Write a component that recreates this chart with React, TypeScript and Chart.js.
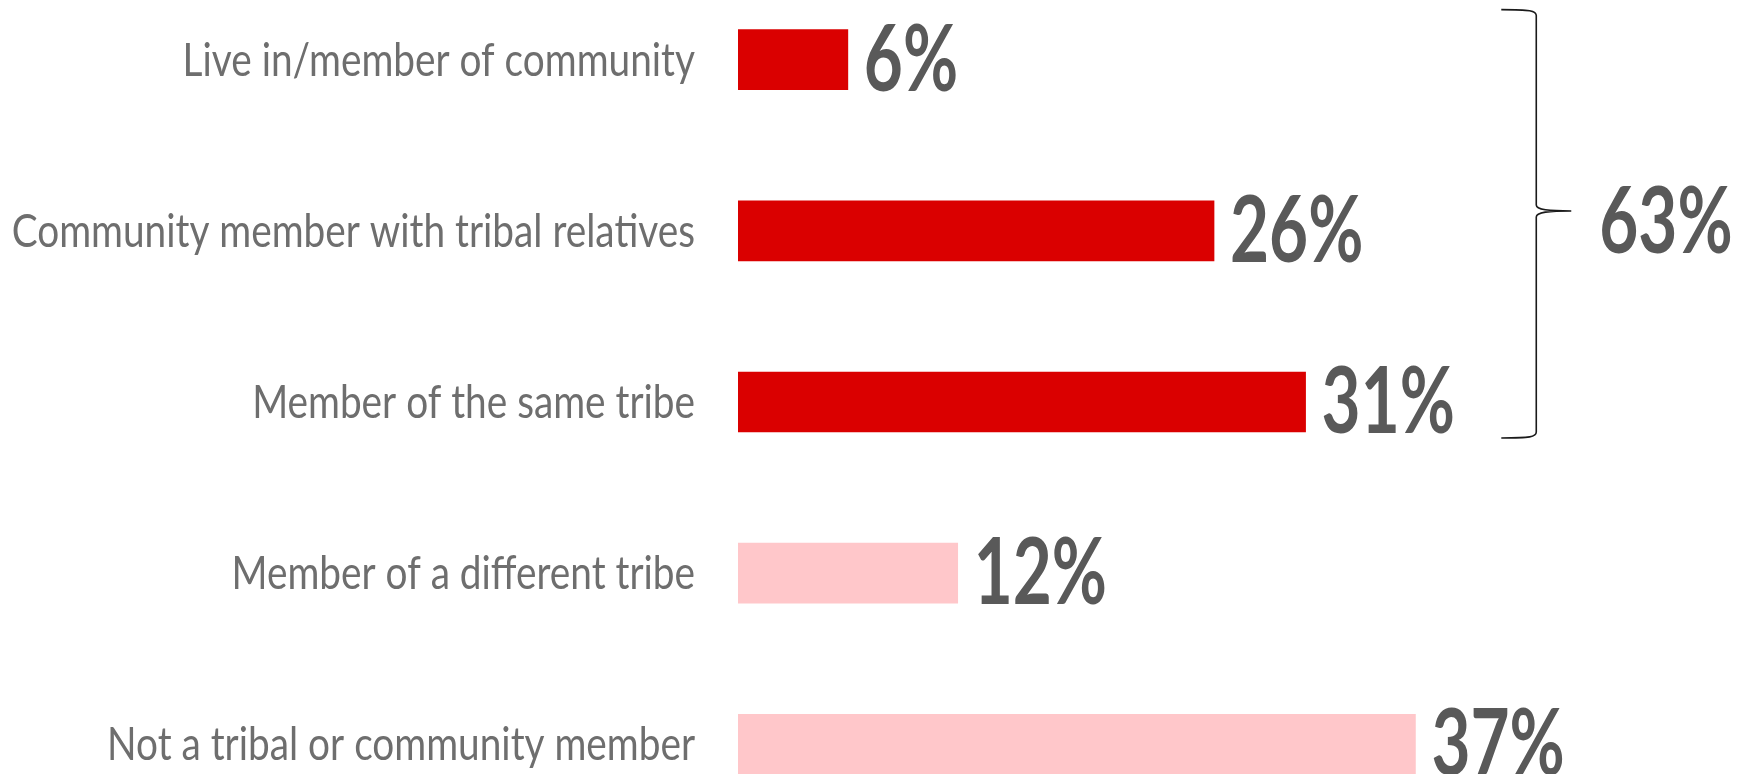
import React, { useEffect, useRef } from "react";
import { Chart, registerables } from "chart.js";

Chart.register(...registerables);

// ---- data ----
const categories: string[] = [
  "Live in/member of community",
  "Community member with tribal relatives",
  "Member of the same tribe",
  "Member of a different tribe",
  "Not a tribal or community member",
];
const values: number[] = [6, 26, 31, 12, 37];
const barColors: string[] = ["#DA0000", "#DA0000", "#DA0000", "#FFC7CA", "#FFC7CA"];
const groupIndices: number[] = [0, 1, 2];
const groupTotal = groupIndices.reduce((s, i) => s + values[i], 0);
const axisMax = 55;
const braceAt = 43.6; // value position of the brace spine

// ---- styles ----
const LABEL_FONT = "Lato";
const LABEL_SIZE = 47;
const LABEL_SX = 0.825;
const VALUE_SIZE = 91;
const VALUE_SX = 0.74;

const overlay = {
  id: "overlay",
  afterDatasetsDraw(chart: any) {
    const ctx: CanvasRenderingContext2D = chart.ctx;
    const meta = chart.getDatasetMeta(0);
    const area = chart.chartArea;
    const xs = chart.scales.x;

    ctx.save();
    // category labels
    ctx.font = `400 ${LABEL_SIZE}px ${LABEL_FONT}`;
    ctx.fillStyle = "#6e6e6e";
    ctx.textAlign = "right";
    ctx.textBaseline = "alphabetic";
    meta.data.forEach((bar: any, i: number) => {
      ctx.save();
      ctx.translate(area.left - 43, bar.y + 16);
      ctx.scale(LABEL_SX, 1);
      ctx.fillText(categories[i], 0, 0);
      ctx.restore();
    });

    // value labels
    ctx.font = `700 ${VALUE_SIZE}px ${LABEL_FONT}`;
    ctx.fillStyle = "#595959";
    ctx.textAlign = "left";
    meta.data.forEach((bar: any, i: number) => {
      ctx.save();
      ctx.translate(bar.x + 16, bar.y + 31);
      ctx.scale(VALUE_SX, 1);
      ctx.fillText(`${values[i]}%`, 0, 0);
      ctx.restore();
    });

    // brace
    const first = meta.data[groupIndices[0]];
    const last = meta.data[groupIndices[groupIndices.length - 1]];
    const top = first.y - 50;
    const bottom = last.y + 36;
    const tipY = top + (bottom - top) * 0.47;
    const bx = xs.getPixelForValue(braceAt);
    const tipX = bx + 35;
    const endX = bx - 35;
    ctx.beginPath();
    ctx.moveTo(endX, top);
    ctx.bezierCurveTo(bx - 6, top, bx, top + 1, bx, top + 6);
    ctx.lineTo(bx, tipY - 6);
    ctx.bezierCurveTo(bx, tipY - 1, bx + 12, tipY, tipX, tipY);
    ctx.moveTo(tipX, tipY);
    ctx.bezierCurveTo(bx + 12, tipY, bx, tipY + 1, bx, tipY + 6);
    ctx.lineTo(bx, bottom - 6);
    ctx.bezierCurveTo(bx, bottom - 1, bx - 6, bottom, endX, bottom);
    ctx.strokeStyle = "#1a1a1a";
    ctx.lineWidth = 1.6;
    ctx.stroke();

    // group total
    ctx.save();
    ctx.translate(tipX + 28, tipY + 42);
    ctx.scale(VALUE_SX, 1);
    ctx.fillText(`${groupTotal}%`, 0, 0);
    ctx.restore();

    ctx.restore();
  },
};

export default function App() {
  const ref = useRef<HTMLCanvasElement | null>(null);
  useEffect(() => {
    if (!ref.current) return;
    const chart = new Chart(ref.current, {
      type: "bar",
      data: {
        labels: categories,
        datasets: [
          {
            data: values,
            backgroundColor: barColors,
            borderWidth: 0,
            barThickness: 60,
          },
        ],
      },
      options: {
        indexAxis: "y",
        animation: false,
        responsive: true,
        maintainAspectRatio: false,
        devicePixelRatio: 1,
        layout: { padding: { left: 738, right: 3, top: 0, bottom: 0 } },
        scales: {
          x: { display: false, min: 0, max: axisMax },
          y: { display: false },
        },
        plugins: {
          legend: { display: false },
          tooltip: { enabled: false },
        },
      },
      plugins: [overlay],
    });
    return () => chart.destroy();
  }, []);

  return (
    <div
      style={{
        position: "fixed",
        left: 0,
        top: 0,
        width: 1748,
        height: 774,
        overflow: "hidden",
        background: "#fff",
      }}
    >
      <div style={{ position: "absolute", left: 0, top: -26, width: 1748, height: 856 }}>
        <canvas ref={ref} />
      </div>
    </div>
  );
}
